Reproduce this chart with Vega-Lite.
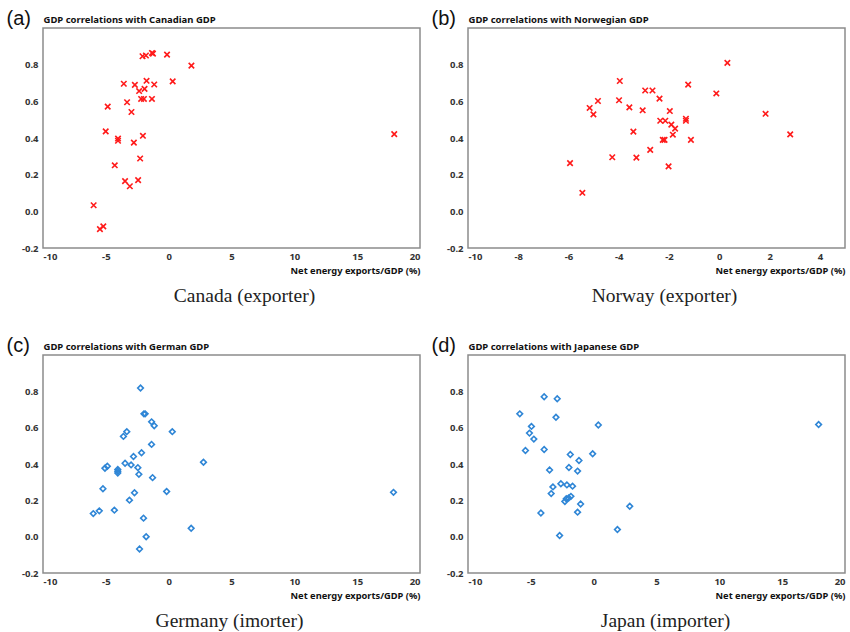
{
  "$schema": "https://vega.github.io/schema/vega-lite/v6.json",
  "padding": {"left": 5, "top": 7, "right": 0, "bottom": 0},
  "background": "white",
  "config": {
    "locale": {"number": {"decimal": ".", "thousands": ",", "grouping": [3], "currency": ["$", ""], "minus": "-"}},
    "view": {"stroke": "#8c8c8c", "strokeWidth": 1.5},
    "axis": {"grid": false, "ticks": false, "domain": false, "labelFont": "Noto Sans", "labelFontSize": 9.5, "labelFontWeight": "bold", "labelColor": "#333"},
    "axisBottom": {"labelPadding": 3, "titleAnchor": "end", "titleFont": "Noto Sans", "titleFontSize": 9.3, "titleFontWeight": "bold", "titleColor": "#111", "titlePadding": 6},
    "axisLeft": {"labelPadding": 5, "titleAngle": 0, "titleX": -37, "titleY": -10, "titleAlign": "left", "titleBaseline": "middle", "titleFont": "Liberation Sans", "titleFontSize": 20, "titleFontWeight": "normal", "titleColor": "#111"},
    "axisTop": {"labels": false, "titleAnchor": "start", "titleFont": "Noto Sans", "titleFontSize": 9.5, "titleFontWeight": "bold", "titleColor": "#111", "titlePadding": 4},
    "title": {"orient": "bottom", "anchor": "middle", "font": "Liberation Serif", "fontSize": 19.5, "fontWeight": "normal", "color": "#222", "offset": 11}
  },
  "datasets": {
    "canada": [
      {"e": -1.33, "c": 0.864}, {"e": -1.25, "c": 0.86}, {"e": -2.08, "c": 0.846}, {"e": -1.81, "c": 0.85}, {"e": -0.13, "c": 0.855},
      {"e": 1.81, "c": 0.795}, {"e": -3.57, "c": 0.696}, {"e": -2.69, "c": 0.69}, {"e": -1.76, "c": 0.712}, {"e": -1.15, "c": 0.692},
      {"e": 0.32, "c": 0.709}, {"e": -2.35, "c": 0.656}, {"e": -1.92, "c": 0.668}, {"e": -4.85, "c": 0.571}, {"e": -3.31, "c": 0.595},
      {"e": -2.96, "c": 0.542}, {"e": -2.19, "c": 0.613}, {"e": -1.97, "c": 0.613}, {"e": -1.33, "c": 0.613}, {"e": -5.01, "c": 0.436},
      {"e": -4.03, "c": 0.397}, {"e": -4.03, "c": 0.385}, {"e": -2.77, "c": 0.375}, {"e": -2.05, "c": 0.412}, {"e": 17.95, "c": 0.421},
      {"e": -4.29, "c": 0.251}, {"e": -2.27, "c": 0.288}, {"e": -3.47, "c": 0.165}, {"e": -3.09, "c": 0.137}, {"e": -2.43, "c": 0.17},
      {"e": -5.97, "c": 0.033}, {"e": -5.47, "c": -0.097}, {"e": -5.2, "c": -0.082}
    ],
    "norway": [
      {"e": 0.32, "c": 0.81}, {"e": -3.96, "c": 0.711}, {"e": -2.95, "c": 0.659}, {"e": -2.66, "c": 0.659}, {"e": -1.24, "c": 0.691},
      {"e": -0.12, "c": 0.643}, {"e": -2.38, "c": 0.615}, {"e": -4.83, "c": 0.602}, {"e": -3.99, "c": 0.606}, {"e": -5.16, "c": 0.564},
      {"e": -3.58, "c": 0.567}, {"e": -3.05, "c": 0.551}, {"e": -1.97, "c": 0.547}, {"e": -5.01, "c": 0.529}, {"e": 1.84, "c": 0.532},
      {"e": -2.35, "c": 0.494}, {"e": -2.15, "c": 0.494}, {"e": -1.33, "c": 0.505}, {"e": -1.33, "c": 0.494}, {"e": -1.91, "c": 0.473},
      {"e": -1.76, "c": 0.451}, {"e": -3.42, "c": 0.435}, {"e": -1.85, "c": 0.418}, {"e": -2.25, "c": 0.39}, {"e": -2.18, "c": 0.39},
      {"e": -1.13, "c": 0.39}, {"e": 2.82, "c": 0.42}, {"e": -2.75, "c": 0.335}, {"e": -4.26, "c": 0.295}, {"e": -3.3, "c": 0.293},
      {"e": -5.94, "c": 0.263}, {"e": -2.02, "c": 0.245}, {"e": -5.45, "c": 0.101}
    ],
    "germany": [
      {"e": -2.24, "c": 0.818}, {"e": -1.97, "c": 0.676}, {"e": -1.87, "c": 0.676}, {"e": -1.36, "c": 0.632}, {"e": -1.15, "c": 0.611},
      {"e": -3.33, "c": 0.578}, {"e": -3.6, "c": 0.552}, {"e": 0.29, "c": 0.578}, {"e": -1.36, "c": 0.508}, {"e": -2.16, "c": 0.462},
      {"e": -2.8, "c": 0.441}, {"e": -4.88, "c": 0.388}, {"e": -5.07, "c": 0.377}, {"e": -3.47, "c": 0.404}, {"e": -2.99, "c": 0.395},
      {"e": -2.45, "c": 0.38}, {"e": -4.05, "c": 0.37}, {"e": -4.05, "c": 0.36}, {"e": -4.05, "c": 0.35}, {"e": -2.37, "c": 0.343},
      {"e": -1.28, "c": 0.325}, {"e": 2.77, "c": 0.41}, {"e": -5.23, "c": 0.264}, {"e": -2.72, "c": 0.242}, {"e": -0.16, "c": 0.249},
      {"e": 17.89, "c": 0.244}, {"e": -3.12, "c": 0.201}, {"e": -6.0, "c": 0.127}, {"e": -5.52, "c": 0.142}, {"e": -4.32, "c": 0.146},
      {"e": -2.0, "c": 0.102}, {"e": 1.79, "c": 0.046}, {"e": -1.79, "c": 0.0}, {"e": -2.32, "c": -0.068}
    ],
    "japan": [
      {"e": -3.94, "c": 0.77}, {"e": -2.9, "c": 0.759}, {"e": -5.88, "c": 0.676}, {"e": -3.0, "c": 0.657}, {"e": 0.37, "c": 0.615},
      {"e": 17.9, "c": 0.617}, {"e": -4.95, "c": 0.607}, {"e": -5.11, "c": 0.57}, {"e": -4.76, "c": 0.537}, {"e": -5.43, "c": 0.474},
      {"e": -3.94, "c": 0.48}, {"e": -1.86, "c": 0.452}, {"e": -0.08, "c": 0.456}, {"e": -1.17, "c": 0.419}, {"e": -1.97, "c": 0.381},
      {"e": -3.51, "c": 0.367}, {"e": -1.28, "c": 0.361}, {"e": -2.61, "c": 0.291}, {"e": -2.13, "c": 0.285}, {"e": -1.68, "c": 0.278},
      {"e": -3.24, "c": 0.274}, {"e": -3.38, "c": 0.237}, {"e": -1.81, "c": 0.222}, {"e": -1.99, "c": 0.213}, {"e": -2.18, "c": 0.209},
      {"e": -2.29, "c": 0.194}, {"e": -1.04, "c": 0.18}, {"e": 2.87, "c": 0.167}, {"e": -4.2, "c": 0.13}, {"e": -1.28, "c": 0.135},
      {"e": 1.89, "c": 0.039}, {"e": -2.71, "c": 0.006}
    ]
  },
  "spacing": 27,
  "vconcat": [
    {
      "spacing": 9,
      "hconcat": [
        {
          "width": 377, "height": 220,
          "data": {"name": "canada"},
          "title": {"text": "Canada (exporter)", "dx": 13},
          "encoding": {
            "x": {"field": "e", "type": "quantitative", "scale": {"domain": [-10, 20], "nice": false, "zero": false}, "axis": {"values": [-10, -5, 0, 5, 10, 15, 20], "title": "Net energy exports/GDP (%)"}},
            "y": {"field": "c", "type": "quantitative", "scale": {"domain": [-0.2, 1.0], "nice": false, "zero": false}, "axis": {"values": [-0.2, 0, 0.2, 0.4, 0.6, 0.8], "format": ".1f", "title": "(a)"}}
          },
          "layer": [
            {"mark": {"type": "point", "shape": "M-1,-1L1,1M1,-1L-1,1", "filled": false, "color": "#ff1a1a", "size": 30, "strokeWidth": 1.6, "opacity": 1}},
            {"mark": {"type": "point", "opacity": 0},
             "encoding": {"x": {"field": "e", "type": "quantitative", "axis": {"orient": "top", "title": "GDP correlations with Canadian GDP"}}}}
          ],
          "resolve": {"axis": {"x": "independent"}}
        },
        {
          "width": 377, "height": 220,
          "data": {"name": "norway"},
          "title": {"text": "Norway (exporter)", "dx": 8},
          "encoding": {
            "x": {"field": "e", "type": "quantitative", "scale": {"domain": [-10, 5], "nice": false, "zero": false}, "axis": {"values": [-10, -8, -6, -4, -2, 0, 2, 4], "title": "Net energy exports/GDP (%)"}},
            "y": {"field": "c", "type": "quantitative", "scale": {"domain": [-0.2, 1.0], "nice": false, "zero": false}, "axis": {"values": [-0.2, 0, 0.2, 0.4, 0.6, 0.8], "format": ".1f", "title": "(b)"}}
          },
          "layer": [
            {"mark": {"type": "point", "shape": "M-1,-1L1,1M1,-1L-1,1", "filled": false, "color": "#ff1a1a", "size": 30, "strokeWidth": 1.6, "opacity": 1}},
            {"mark": {"type": "point", "opacity": 0},
             "encoding": {"x": {"field": "e", "type": "quantitative", "axis": {"orient": "top", "title": "GDP correlations with Norwegian GDP"}}}}
          ],
          "resolve": {"axis": {"x": "independent"}}
        }
      ]
    },
    {
      "spacing": 9,
      "hconcat": [
        {
          "width": 377, "height": 218,
          "data": {"name": "germany"},
          "title": {"text": "Germany (imorter)", "dx": -2},
          "encoding": {
            "x": {"field": "e", "type": "quantitative", "scale": {"domain": [-10, 20], "nice": false, "zero": false}, "axis": {"values": [-10, -5, 0, 5, 10, 15, 20], "title": "Net energy exports/GDP (%)"}},
            "y": {"field": "c", "type": "quantitative", "scale": {"domain": [-0.2, 1.0], "nice": false, "zero": false}, "axis": {"values": [-0.2, 0, 0.2, 0.4, 0.6, 0.8], "format": ".1f", "title": "(c)"}}
          },
          "layer": [
            {"mark": {"type": "point", "shape": "diamond", "filled": false, "color": "#2f86d6", "size": 32, "strokeWidth": 1.6, "opacity": 1}},
            {"mark": {"type": "point", "opacity": 0},
             "encoding": {"x": {"field": "e", "type": "quantitative", "axis": {"orient": "top", "title": "GDP correlations with German GDP"}}}}
          ],
          "resolve": {"axis": {"x": "independent"}}
        },
        {
          "width": 377, "height": 218,
          "data": {"name": "japan"},
          "title": {"text": "Japan (importer)", "dx": 9},
          "encoding": {
            "x": {"field": "e", "type": "quantitative", "scale": {"domain": [-10, 20], "nice": false, "zero": false}, "axis": {"values": [-10, -5, 0, 5, 10, 15, 20], "title": "Net energy exports/GDP (%)"}},
            "y": {"field": "c", "type": "quantitative", "scale": {"domain": [-0.2, 1.0], "nice": false, "zero": false}, "axis": {"values": [-0.2, 0, 0.2, 0.4, 0.6, 0.8], "format": ".1f", "title": "(d)"}}
          },
          "layer": [
            {"mark": {"type": "point", "shape": "diamond", "filled": false, "color": "#2f86d6", "size": 32, "strokeWidth": 1.6, "opacity": 1}},
            {"mark": {"type": "point", "opacity": 0},
             "encoding": {"x": {"field": "e", "type": "quantitative", "axis": {"orient": "top", "title": "GDP correlations with Japanese GDP"}}}}
          ],
          "resolve": {"axis": {"x": "independent"}}
        }
      ]
    }
  ]
}
